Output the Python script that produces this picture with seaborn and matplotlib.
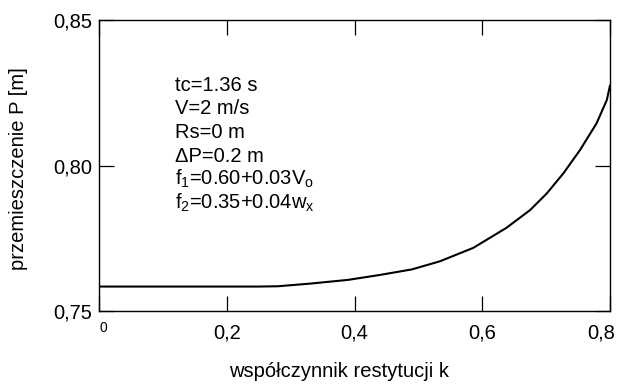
import matplotlib
matplotlib.use("Agg")
import matplotlib.pyplot as plt
import matplotlib.transforms as mtransforms
import seaborn as sns
import pandas as pd

k = [0.0, 0.1, 0.2, 0.25, 0.28, 0.33, 0.39, 0.44, 0.49, 0.534, 0.586, 0.638, 0.675, 0.701, 0.727, 0.753, 0.779, 0.795, 0.8]
P = [0.7584, 0.7584, 0.7584, 0.7584, 0.7585, 0.7594, 0.7607, 0.7624, 0.7643, 0.7671, 0.7717, 0.7786, 0.7847, 0.7904, 0.7973, 0.8053, 0.8145, 0.8225, 0.8275]

xticks = [0, 0.2, 0.4, 0.6, 0.8]
xticklabels = ["0", "0,2", "0,4", "0,6", "0,8"]
yticks = [0.75, 0.80, 0.85]
yticklabels = ["0,75", "0,80", "0,85"]

info = ["tc=1.36 s", "V=2 m/s", "Rs=0 m", "ΔP=0.2 m",
        r"f$_1$=0.60+0.03V$_\mathrm{o}$", r"f$_2$=0.35+0.04w$_\mathrm{x}$"]

sns.set_style("ticks")
plt.rcParams['font.family'] = ['Liberation Sans', 'DejaVu Sans']
plt.rcParams['mathtext.fontset'] = 'custom'
plt.rcParams['mathtext.rm'] = 'Liberation Sans'
plt.rcParams['mathtext.it'] = 'Liberation Sans'
plt.rcParams['text.color'] = 'black'
plt.rcParams['axes.labelcolor'] = 'black'

FS = 14.5
W, H = 617, 388
fig = plt.figure(figsize=(W/100, H/100), dpi=100)
ax = fig.add_axes([99/W, 1 - 311/H, (610-99)/W, (311-20)/H])

df = pd.DataFrame({"k": k, "P": P})
sns.lineplot(data=df, x="k", y="P", ax=ax, color="black", linewidth=1.5)

ax.set_xlim(0, 0.8)
ax.set_ylim(0.75, 0.85)
ax.set_xticks(xticks)
ax.set_xticklabels(xticklabels, fontsize=FS)
ax.set_yticks(yticks)
ax.set_yticklabels(yticklabels, fontsize=FS)
ax.tick_params(direction="in", length=11, width=0.9, top=True, right=True,
               colors="black", labelcolor="black")
ax.tick_params(axis="x", pad=9)
ax.tick_params(axis="y", pad=5)
for s in ax.spines.values():
    s.set_linewidth(1.0)
    s.set_color("black")

# small "0" label slightly right, last label shifted left to stay in frame
labs = ax.get_xticklabels()
labs[0].set_fontsize(10)
labs[0].set_transform(labs[0].get_transform() + mtransforms.ScaledTranslation(4/100, 2/100, fig.dpi_scale_trans))
labs[-1].set_transform(labs[-1].get_transform() + mtransforms.ScaledTranslation(-9/100, 0, fig.dpi_scale_trans))

ax.set_xlabel("współczynnik restytucji k", fontsize=FS, color="black")
ax.xaxis.set_label_coords((339-99)/511, (311-362)/291)
ax.set_ylabel("przemieszczenie P [m]", fontsize=FS, color="black")
ax.yaxis.set_label_coords((28-99)/511, (311-169)/291)

for i, t in enumerate(info):
    fig.text(175/W, 1 - (91 + i*23.5)/H, t, fontsize=FS, va="baseline", ha="left", color="black")

fig.savefig("out.png", dpi=100)
